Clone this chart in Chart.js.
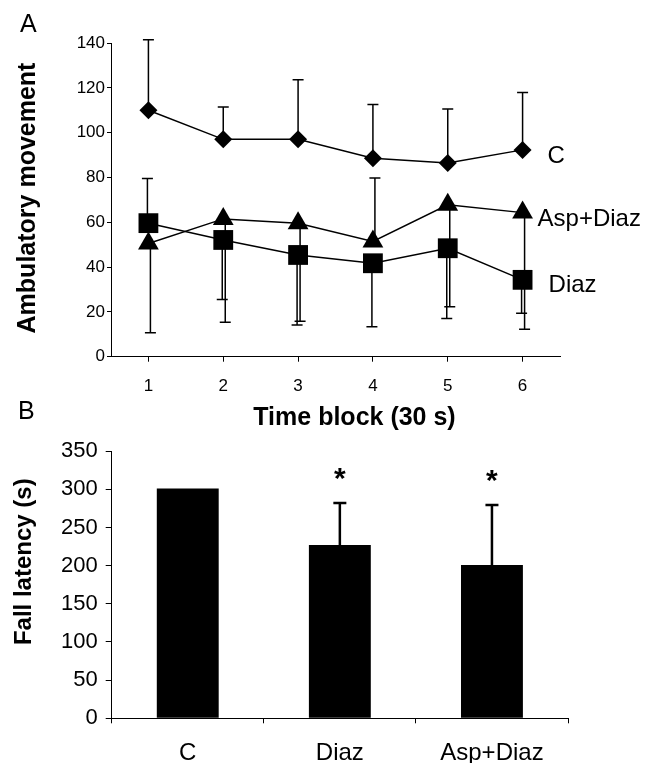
<!DOCTYPE html>
<html><head><meta charset="utf-8">
<script src="https://cdn.jsdelivr.net/npm/chart.js@4/dist/chart.umd.min.js"></script>
<style>
html,body{margin:0;padding:0;background:#fff;}
#wrap{position:relative;width:649px;height:763px;overflow:hidden;}
canvas{position:absolute;left:0;}
#ca{top:0}
#cb{top:430px}
</style></head><body>
<div id="wrap"><canvas id="ca" width="649" height="430"></canvas><canvas id="cb" width="649" height="333"></canvas></div>
<script>
// ---------- Panel A data ----------
const timeBlocks = ['1', '2', '3', '4', '5', '6'];
const ambC = [110, 97, 97, 88.6, 86.4, 92.3];
const ambDiaz = [59.6, 52.1, 45.4, 41.7, 48.4, 34.3];
const ambAspDiaz = [50.5, 61.5, 59.6, 51.4, 67.8, 64.3];
const errHighC = [141.5, 111.4, 123.6, 112.6, 110.6, 117.9];
const errLowDiaz = [null, 25.5, 14.2, 13.4, 17.1, 19.4];
const errHighDiaz = [79.5, null, null, null, null, null];
const errLowAspDiaz = [10.7, 15.4, 15.8, null, 22.3, 12.2];
const errHighAspDiaz = [null, null, null, 79.7, null, null];
const seriesNames = ['C', 'Diaz', 'Asp+Diaz'];
const ambTitleX = 'Time block (30 s)';
const ambTitleY = 'Ambulatory movement';

// ---------- Panel B data ----------
const groups = ['C', 'Diaz', 'Asp+Diaz'];
const fallLatency = [301, 227, 201];
const fallErrHigh = [null, 282, 279.5];
const significant = [false, true, true];
const fallTitleY = 'Fall latency (s)';

const FONT = '"Liberation Sans", Arial, Helvetica, sans-serif';

const errorBarPlugin = {
  id: 'errorBars',
  beforeDatasetsDraw(chart, args, opts) {
    const ctx = chart.ctx, xs = chart.scales.x, ys = chart.scales.y;
    ctx.save();
    ctx.strokeStyle = '#000';
    ctx.lineWidth = opts.lineWidth || 1.5;
    const cap = opts.capHalf || 5;
    chart.data.datasets.forEach((ds) => {
      const dx = ds.errDx || 0;
      ds.data.forEach((v, j) => {
        const x = xs.getPixelForValue(j) + dx;
        const y0 = ys.getPixelForValue(v);
        [ds.errHigh, ds.errLow].forEach(arr => {
          if (!arr || arr[j] == null) return;
          const y1 = ys.getPixelForValue(arr[j]);
          ctx.beginPath();
          ctx.moveTo(x, y0); ctx.lineTo(x, y1);
          ctx.moveTo(x - cap, y1); ctx.lineTo(x + cap, y1);
          ctx.stroke();
        });
      });
    });
    ctx.restore();
  }
};

function vText(ctx, text, x, y, font) {
  ctx.save();
  ctx.translate(x, y);
  ctx.rotate(-Math.PI / 2);
  ctx.font = font;
  ctx.textAlign = 'center';
  ctx.textBaseline = 'middle';
  ctx.fillText(text, 0, 0);
  ctx.restore();
}

const textA = {
  id: 'textA',
  afterDraw(chart) {
    const ctx = chart.ctx, xs = chart.scales.x, ys = chart.scales.y;
    ctx.save();
    ctx.fillStyle = '#000';
    ctx.font = '25px ' + FONT;
    ctx.textAlign = 'left'; ctx.textBaseline = 'alphabetic';
    ctx.fillText('A', 20, 32);
    ctx.fillText('B', 18, 419);
    ctx.font = 'bold 25px ' + FONT;
    ctx.textAlign = 'center'; ctx.textBaseline = 'middle';
    ctx.fillText(ambTitleX, 354.5, 418);
    vText(ctx, ambTitleY, 28, 198, 'bold 25px ' + FONT);
    ctx.font = '24px ' + FONT;
    ctx.textAlign = 'left'; ctx.textBaseline = 'middle';
    chart.data.datasets.forEach(ds => {
      const n = ds.data.length - 1;
      ctx.fillText(ds.endLabel, xs.getPixelForValue(n) + ds.endDx, ys.getPixelForValue(ds.data[n]) + ds.endDy);
    });
    ctx.restore();
  }
};

const textB = {
  id: 'textB',
  afterDraw(chart) {
    const ctx = chart.ctx, xs = chart.scales.x, ys = chart.scales.y;
    ctx.save();
    ctx.fillStyle = '#000';
    vText(ctx, fallTitleY, 24, 131.7, 'bold 24px ' + FONT);
    ctx.font = 'bold 30px ' + FONT;
    ctx.textAlign = 'center'; ctx.textBaseline = 'alphabetic';
    const ds = chart.data.datasets[0];
    ds.stars.forEach((s, j) => {
      if (!s) return;
      const top = ds.errHigh[j] != null ? ds.errHigh[j] : ds.data[j];
      ctx.fillText('*', xs.getPixelForValue(j), ys.getPixelForValue(top) - 15);
    });
    ctx.restore();
  }
};

const axisCommon = (size, pad) => ({
  color: '#000', font: { family: FONT, size: size }, padding: pad
});

new Chart(document.getElementById('ca'), {
  type: 'line',
  data: {
    labels: timeBlocks,
    datasets: [
      { label: seriesNames[0], data: ambC, borderColor: '#000', backgroundColor: '#000', borderWidth: 1.5,
        pointStyle: 'rectRot', pointRadius: 9, pointBorderWidth: 0, pointBackgroundColor: '#000',
        errHigh: errHighC, errLow: null, errDx: 0, endLabel: 'C', endDx: 25, endDy: 6, clip: false },
      { label: seriesNames[1], data: ambDiaz, borderColor: '#000', backgroundColor: '#000', borderWidth: 1.5,
        pointStyle: 'rect', pointRadius: 14, pointBorderWidth: 0, pointBackgroundColor: '#000',
        errHigh: errHighDiaz, errLow: errLowDiaz, errDx: -1, endLabel: 'Diaz', endDx: 26, endDy: 6, clip: false },
      { label: seriesNames[2], data: ambAspDiaz, borderColor: '#000', backgroundColor: '#000', borderWidth: 1.5,
        pointStyle: 'triangle', pointRadius: 12, pointBorderWidth: 0, pointBackgroundColor: '#000',
        errHigh: errHighAspDiaz, errLow: errLowAspDiaz, errDx: 2, endLabel: 'Asp+Diaz', endDx: 15, endDy: 7, clip: false }
    ]
  },
  options: {
    responsive: false, animation: false, devicePixelRatio: 1,
    layout: { padding: { top: 43, right: 89, left: 0, bottom: 0 } },
    plugins: { legend: { display: false }, tooltip: { enabled: false }, colors: { enabled: false },
      errorBars: { lineWidth: 1.5, capHalf: 5.5 } },
    scales: {
      x: {
        type: 'category', offset: true,
        grid: { offset: false, drawOnChartArea: false, color: '#000', tickLength: 5 },
        border: { color: '#000', width: 1 },
        ticks: Object.assign(axisCommon(17, 14), { maxRotation: 0, autoSkip: false }),
        afterFit(s) { s.height = 73.3; }
      },
      y: {
        min: 0, max: 140,
        grid: { drawOnChartArea: false, color: '#000', tickLength: 4 },
        border: { color: '#000', width: 1 },
        ticks: Object.assign(axisCommon(17, 2), { stepSize: 20 }),
        afterFit(s) { s.width = 111; }
      }
    }
  },
  plugins: [errorBarPlugin, textA]
});

new Chart(document.getElementById('cb'), {
  type: 'bar',
  data: {
    labels: groups,
    datasets: [{
      label: fallTitleY, data: fallLatency, backgroundColor: '#000', borderColor: '#000', borderWidth: 0,
      categoryPercentage: 1, barPercentage: 0.407, errHigh: fallErrHigh, errLow: null, errDx: 0, stars: significant
    }]
  },
  options: {
    responsive: false, animation: false, devicePixelRatio: 1,
    layout: { padding: { top: 17, right: 81, left: 0, bottom: 0 } },
    plugins: { legend: { display: false }, tooltip: { enabled: false }, colors: { enabled: false },
      errorBars: { lineWidth: 2.5, capHalf: 6.5 } },
    scales: {
      x: {
        grid: { offset: true, drawOnChartArea: false, color: '#000', tickLength: 5 },
        border: { color: '#000', width: 1 },
        ticks: Object.assign(axisCommon(24, 16), { maxRotation: 0, autoSkip: false }),
        afterFit(s) { s.height = 44.7; }
      },
      y: {
        min: 0, max: 350,
        grid: { drawOnChartArea: false, color: '#000', tickLength: 6 },
        border: { color: '#000', width: 1 },
        ticks: Object.assign(axisCommon(22, 8), { stepSize: 50 }),
        afterFit(s) { s.width = 111.7; }
      }
    }
  },
  plugins: [errorBarPlugin, textB]
});
</script>
</body></html>
